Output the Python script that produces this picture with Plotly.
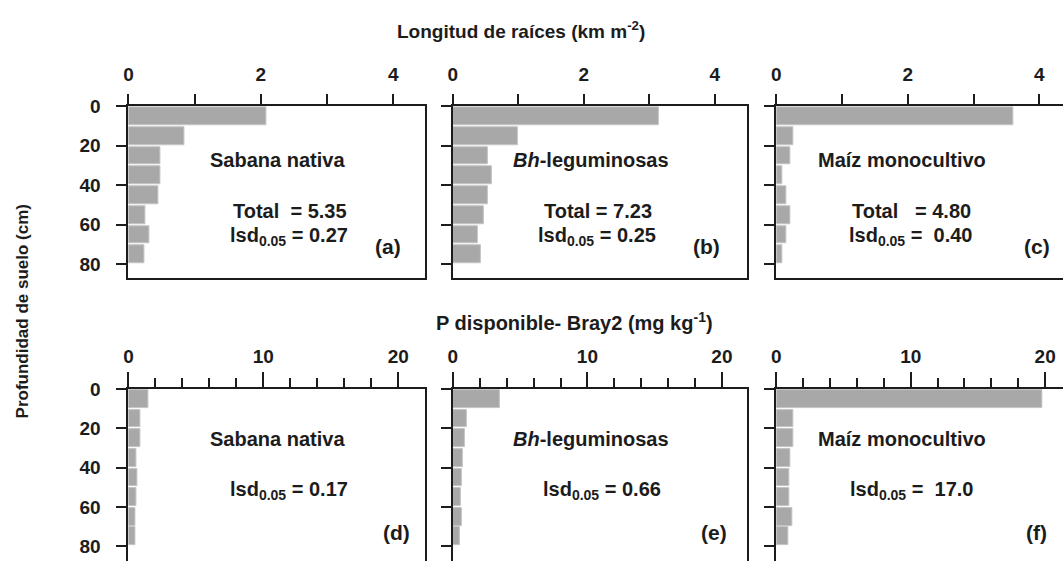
import plotly.graph_objects as go

# ---------------- data ----------------
depth_cm = [5, 15, 25, 35, 45, 55, 65, 75]
depth_ticks = [0, 20, 40, 60, 80]

root_sabana = [2.09, 0.84, 0.49, 0.49, 0.46, 0.26, 0.32, 0.24]
root_bh = [3.15, 0.99, 0.54, 0.60, 0.53, 0.48, 0.38, 0.42]
root_maiz = [3.61, 0.26, 0.21, 0.09, 0.15, 0.21, 0.15, 0.09]

p_sabana = [1.47, 0.86, 0.86, 0.56, 0.66, 0.61, 0.54, 0.49]
p_bh = [3.47, 1.06, 0.89, 0.71, 0.66, 0.57, 0.64, 0.54]
p_maiz = [19.8, 1.28, 1.23, 1.01, 0.94, 0.94, 1.19, 0.86]

systems = ["Sabana nativa", "<i>Bh</i>-leguminosas", "Maíz monocultivo"]
root_totals = ["Total  = 5.35", "Total = 7.23", "Total   = 4.80"]
root_lsd = ["0.27", "0.25", " 0.40"]
p_lsd = ["0.17", "0.66", " 17.0"]
panel_letters = ["(a)", "(b)", "(c)", "(d)", "(e)", "(f)"]

root_ticks = [0, 1, 2, 3, 4]
root_ticktext = ["0", "", "2", "", "4"]
p_ticks = [0, 10, 20]

title_top = "Longitud de raíces (km m<sup>-2</sup>)"
title_bottom = "P disponible- Bray2 (mg kg<sup>-1</sup>)"
y_title = "Profundidad de suelo (cm)"

# ---------------- layout helpers ----------------
W, H = 1063, 561
def xp(px):
    return px / W
def yp(py):
    return 1 - py / H

INK = "#1c1c1c"
BAR = "#a8a8a8"
FONT = "Liberation Sans"

fig = go.Figure()

col_px = [(124, 422), (450, 746), (775, 1063)]
top_rng = [4.48, 4.5, 4.36]
bot_rng = [21.98, 21.9, 21.33]
row_px = [(98, 273), (386, 561)]
y_rng = [87, 87.5]

series = [root_sabana, root_bh, root_maiz, p_sabana, p_bh, p_maiz]

for i, vals in enumerate(series):
    n = i + 1
    fig.add_trace(go.Bar(
        x=vals, y=depth_cm, orientation="h", width=9,
        marker=dict(color=BAR, line=dict(color="#c4c4c4", width=1)),
        xaxis=f"x{n}" if n > 1 else "x", yaxis=f"y{n}" if n > 1 else "y",
        showlegend=False, hoverinfo="x+y",
    ))

axis_font = dict(family=FONT, size=19, color=INK, weight="bold")

for i in range(6):
    n = i + 1
    row = i // 3
    col = i % 3
    x0, x1 = col_px[col]
    ytop, ybot = row_px[row]
    xkey = "xaxis" if n == 1 else f"xaxis{n}"
    ykey = "yaxis" if n == 1 else f"yaxis{n}"
    xa = dict(
        domain=[xp(x0), xp(x1)], anchor="y" if n == 1 else f"y{n}",
        side="top", showgrid=False, zeroline=False,
        showline=True, linecolor=INK, linewidth=2,
        ticks="outside", tickcolor=INK, tickwidth=2,
        tickfont=axis_font, fixedrange=True,
    )
    if row == 0:
        xa.update(range=[0, top_rng[col]], tickmode="array",
                  tickvals=root_ticks, ticktext=root_ticktext,
                  ticklen=10, mirror=True, ticklabelstandoff=6)
    else:
        xa.update(range=[0, bot_rng[col]], tickmode="array",
                  tickvals=p_ticks, ticklen=15, mirror=False,
                  ticklabelstandoff=2,
                  minor=dict(dtick=2, tick0=0, ticklen=9, ticks="outside",
                             tickcolor=INK, tickwidth=2, showgrid=False))
    ya = dict(
        domain=[yp(ybot), yp(ytop)], anchor="x" if n == 1 else f"x{n}",
        range=[y_rng[row], 0], showgrid=False, zeroline=False,
        showline=True, linecolor=INK, linewidth=2,
        ticks="outside", tickcolor=INK, tickwidth=2, ticklen=10,
        tickmode="array", tickvals=depth_ticks,
        showticklabels=(col == 0), tickfont=axis_font,
        ticklabelstandoff=12,
        mirror=(col != 2), fixedrange=True,
    )
    fig.layout[xkey] = xa
    fig.layout[ykey] = ya

ann = []
def add_text(text, x, y, size=20, family=FONT, textangle=0):
    ann.append(dict(text=text, x=xp(x), y=yp(y), xref="paper", yref="paper",
                    xanchor="center", yanchor="middle", showarrow=False,
                    textangle=textangle,
                    font=dict(family=family, size=size, color=INK, weight="bold")))

# top row texts
sys_x = [274, 589, 901]
tot_x = [286, 596, 911]
let_x = [385, 705, 1037]
for c in range(3):
    add_text(systems[c], sys_x[c], 153)
    add_text(root_totals[c], tot_x[c], 205)
    add_text("lsd<sub>0.05</sub> = " + root_lsd[c], tot_x[c] - 1, 231)
    add_text(panel_letters[c], let_x[c], 241, size=21)

# bottom row texts
lsd_x = [285, 600, 911]
let2_x = [393, 712, 1036]
for c in range(3):
    add_text(systems[c], sys_x[c], 437)
    add_text("lsd<sub>0.05</sub> = " + p_lsd[c], lsd_x[c], 489)
    add_text(panel_letters[3 + c], let2_x[c], 532, size=21)

add_text(title_top, 518, 20, size=19)
add_text(title_bottom, 572, 317, size=20)
add_text(y_title, 18, 307, size=17, textangle=-90)

fig.update_layout(
    width=W, height=H, margin=dict(l=0, r=0, t=0, b=0),
    paper_bgcolor="white", plot_bgcolor="white",
    annotations=ann, bargap=0, showlegend=False,
)

fig.write_html("out.html", config={"displayModeBar": False},
               post_script="document.body.style.margin='0';")
